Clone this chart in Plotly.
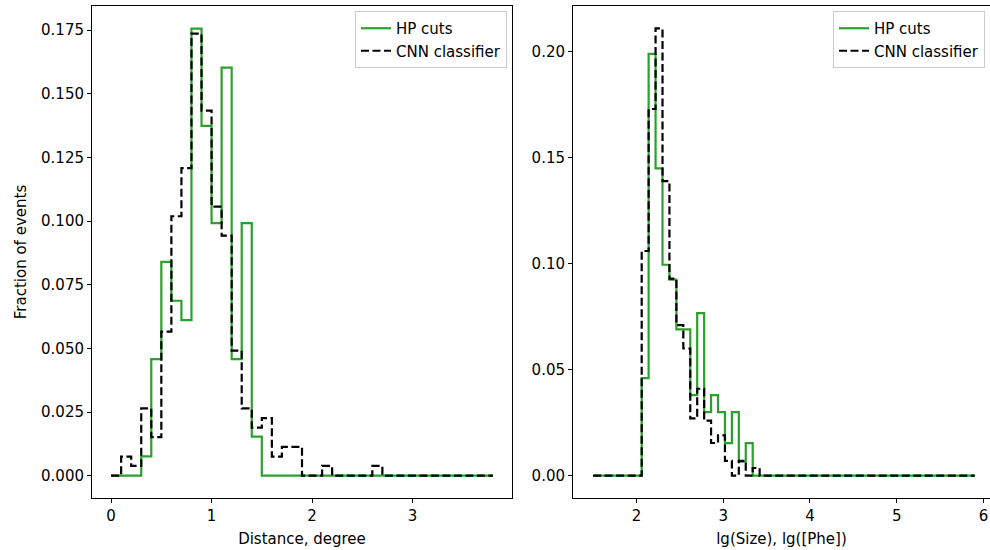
import plotly.graph_objects as go

# ---------------- data ----------------
# Left panel: Distance, degree  (bins of 0.1 from 0.0 to 3.8)
dist_start = 0.0
dist_width = 0.1
dist_hp = [0, 0, 0, 0.0076, 0.0458, 0.0840, 0.0687, 0.0611, 0.1756, 0.1374,
           0.0992, 0.1603, 0.0458, 0.0992, 0.0153, 0, 0, 0, 0, 0,
           0, 0, 0, 0, 0, 0, 0, 0, 0, 0,
           0, 0, 0, 0, 0, 0, 0, 0]
dist_cnn = [0, 0.0075, 0.0038, 0.0264, 0.0151, 0.0566, 0.1019, 0.1208, 0.1736, 0.1434,
            0.1057, 0.0943, 0.0491, 0.0264, 0.0189, 0.0226, 0.0075, 0.0113, 0.0113, 0,
            0, 0.0038, 0, 0, 0, 0, 0.0038, 0, 0, 0,
            0, 0, 0, 0, 0, 0, 0, 0]

# Right panel: lg(Size)  (bins of 0.08 from 1.5 to 5.9)
size_start = 1.5
size_width = 0.08
size_hp = [0, 0, 0, 0, 0, 0, 0, 0.046, 0.199, 0.145,
           0.0995, 0.0925, 0.069, 0.069, 0.038, 0.0767, 0.030, 0.038, 0.030, 0.0153,
           0.030, 0.0066, 0.0153, 0, 0, 0, 0, 0, 0, 0,
           0, 0, 0, 0, 0, 0, 0, 0, 0, 0,
           0, 0, 0, 0, 0, 0, 0, 0, 0, 0,
           0, 0, 0, 0, 0]
size_cnn = [0, 0, 0, 0, 0, 0, 0, 0.106, 0.173, 0.211,
            0.139, 0.093, 0.071, 0.060, 0.027, 0.041, 0.026, 0.0154, 0.019, 0.007,
            0, 0.007, 0, 0.0036, 0, 0, 0, 0, 0, 0,
            0, 0, 0, 0, 0, 0, 0, 0, 0, 0,
            0, 0, 0, 0, 0, 0, 0, 0, 0, 0,
            0, 0, 0, 0, 0]

dist_yticks = [0.0, 0.025, 0.05, 0.075, 0.1, 0.125, 0.15, 0.175]
size_yticks = [0.0, 0.05, 0.1, 0.15, 0.2]
dist_xticks = [0, 1, 2, 3]
size_xticks = [2, 3, 4, 5, 6]

GREEN = "#2ca02c"
FONT = "DejaVu Sans"
FS = 15
LW = 2.2
DASH = "8px,3.5px"


def step_xy(start, width, vals):
    n = len(vals)
    xs = [round(start + width * i, 4) for i in range(n + 1)]
    ys = list(vals) + [vals[-1]]
    return xs, ys


fig = go.Figure()

x, y = step_xy(dist_start, dist_width, dist_hp)
fig.add_trace(go.Scatter(x=x, y=y, mode="lines", line=dict(shape="hv", color=GREEN, width=LW),
                         name="HP cuts", xaxis="x", yaxis="y", legend="legend"))
x, y = step_xy(dist_start, dist_width, dist_cnn)
fig.add_trace(go.Scatter(x=x, y=y, mode="lines", line=dict(shape="hv", color="black", width=LW, dash=DASH),
                         name="CNN classifier", xaxis="x", yaxis="y", legend="legend"))
x, y = step_xy(size_start, size_width, size_hp)
fig.add_trace(go.Scatter(x=x, y=y, mode="lines", line=dict(shape="hv", color=GREEN, width=LW),
                         name="HP cuts", xaxis="x2", yaxis="y2", legend="legend2"))
x, y = step_xy(size_start, size_width, size_cnn)
fig.add_trace(go.Scatter(x=x, y=y, mode="lines", line=dict(shape="hv", color="black", width=LW, dash=DASH),
                         name="CNN classifier", xaxis="x2", yaxis="y2", legend="legend2"))

W_PLOT = 898.0
axis_common = dict(showgrid=False, zeroline=False, showline=True, linecolor="black", linewidth=1,
                   ticks="outside", ticklen=4, tickcolor="black", tickwidth=1,
                   tickfont=dict(family=FONT, size=FS, color="black"))

legend_common = dict(font=dict(family=FONT, size=FS, color="black"), bgcolor="rgba(255,255,255,0.8)",
                     bordercolor="#cccccc", borderwidth=1, xanchor="right", yanchor="top",
                     tracegroupgap=0)

fig.update_layout(
    width=990, height=550,
    margin=dict(l=92, r=0, t=6, b=52),
    paper_bgcolor="white", plot_bgcolor="white",
    font=dict(family=FONT, size=FS, color="black"),
    xaxis=dict(domain=[0, 420 / W_PLOT], range=[-0.19, 3.99], tickvals=dist_xticks,
               mirror=True, anchor="y",
               title=dict(text="Distance, degree", font=dict(family=FONT, size=FS), standoff=9),
               **axis_common),
    yaxis=dict(domain=[0, 1], range=[-0.00878, 0.18448], tickvals=dist_yticks, tickformat=".3f",
               mirror=True, anchor="x",
               title=dict(text="Fraction of events", font=dict(family=FONT, size=FS), standoff=10),
               **axis_common),
    xaxis2=dict(domain=[481 / W_PLOT, 1], range=[1.268, 6.076], tickvals=size_xticks,
                mirror=True, anchor="y2",
                title=dict(text="lg(Size), lg([Phe])", font=dict(family=FONT, size=FS), standoff=9),
                **axis_common),
    yaxis2=dict(domain=[0, 1], range=[-0.01055, 0.2216], tickvals=size_yticks, tickformat=".2f",
                mirror=False, anchor="x2", **axis_common),
    legend=dict(x=415 / W_PLOT, y=1 - 5 / 492, **legend_common),
    legend2=dict(x=893 / W_PLOT, y=1 - 5 / 492, **legend_common),
)

fig.write_html("out.html")
